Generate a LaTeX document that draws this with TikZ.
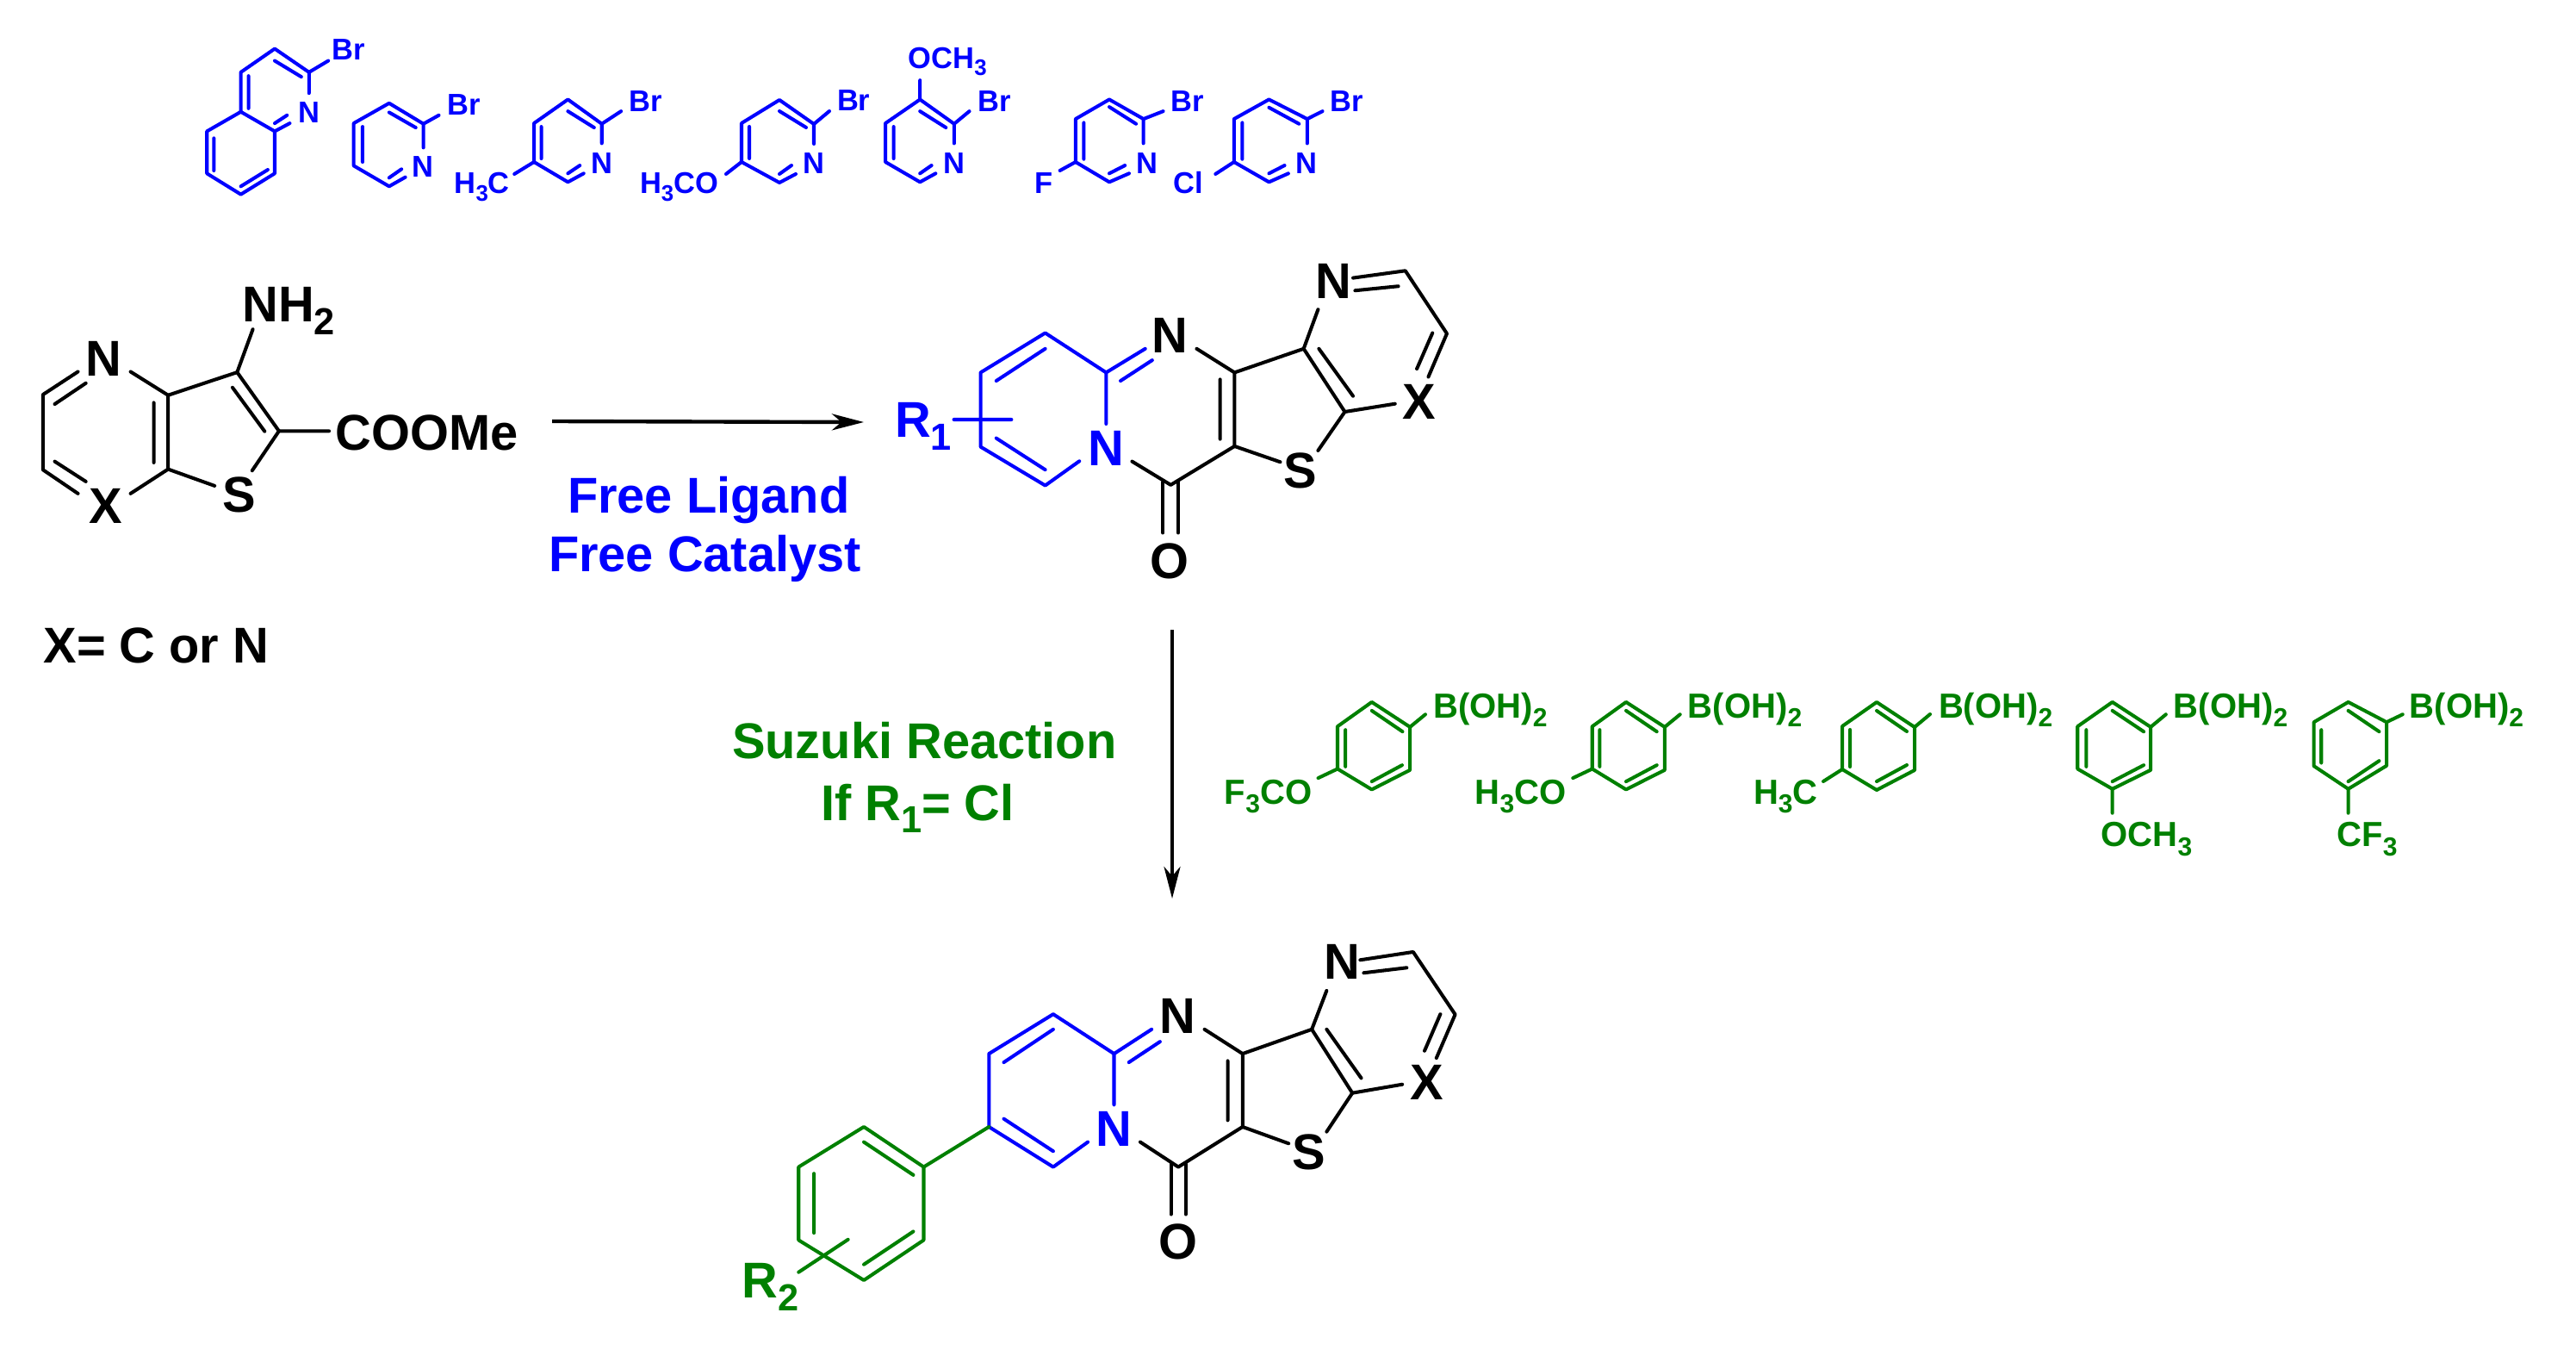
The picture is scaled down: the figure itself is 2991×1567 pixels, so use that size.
\documentclass[tikz,border=0pt]{standalone}
\usepackage{fontspec}
\setmainfont{Liberation Sans}[FakeStretch=0.99]
\usetikzlibrary{arrows.meta}
\definecolor{cblue}{RGB}{0,0,255}
\definecolor{cgreen}{RGB}{0,128,0}
\newcommand{\sbb}[1]{\raisebox{-.25em}{\scalebox{.75}{#1}}}
\tikzset{
  bnd/.style={line width=1.15pt,line cap=round,line join=round},
  lbl/.style={anchor=base west,inner sep=0pt,outer sep=0pt,xshift=-0.03cm,font=\bfseries\fontsize{16.6}{18}\selectfont},
  slbl/.style={anchor=base west,inner sep=0pt,outer sep=0pt,xshift=-0.02cm,font=\bfseries\fontsize{9.9}{11}\selectfont},
  glbl/.style={anchor=base west,inner sep=0pt,outer sep=0pt,xshift=-0.02cm,font=\bfseries\fontsize{11.5}{12}\selectfont},
  rxn/.style={line width=1.25pt,-{Stealth[length=0.37cm,width=0.19cm,inset=0.11cm]}},
  zA/.style={shift={(200,0)},x=0.004464cm,y=-0.003333cm},
  zB/.style={shift={(900,0)},x=0.004783cm,y=-0.003333cm},
  zC/.style={shift={(0,300)},x=0.004146cm,y=-0.003333cm},
  zD/.style={shift={(1000,280)},x=0.004783cm,y=-0.003333cm},
  zE/.style={shift={(840,1080)},x=0.005740cm,y=-0.003333cm},
  zF/.style={shift={(1400,770)},x=0.005102cm,y=-0.003333cm},
  zG/.style={shift={(2200,770)},x=0.005045cm,y=-0.003333cm},
}
\begin{document}
\begin{tikzpicture}[x=0.01cm,y=-0.01cm]
\useasboundingbox (0,0) rectangle (2991,1567);
% ---------- top row, blue
\begin{scope}[zA,color=cblue]
 \draw[bnd] (178,390)--(178,252)--(266,170)--(355,252)--(355,325);
 \draw[bnd] (305,430)--(266,458)--(178,390)--(90,458)--(90,605)--(178,678)--(266,605)--(266,458);
 \draw[bnd] (266,212)--(335,268) (198,265)--(198,378) (266,430)--(298,402) (248,592)--(178,650) (108,482)--(108,595) (355,252)--(405,212);
 \node[slbl] (q1) at (420,210) {Br};
 \node[slbl] (q2) at (332,428) {N};
 \draw[bnd] (605,618)--(563,650)--(471,578)--(471,430)--(563,360)--(652,432)--(652,515);
 \draw[bnd] (563,392)--(632,445) (494,442)--(494,565) (563,620)--(595,590) (652,432)--(692,402);
 \node[slbl] (p1) at (718,400) {Br};
 \node[slbl] (p2) at (628,617) {N};
 \draw[bnd] (1068,605)--(1027,635)--(939,565)--(939,430)--(1027,347)--(1115,432)--(1115,500);
 \draw[bnd] (1027,388)--(1095,445) (958,442)--(958,553) (1027,605)--(1058,577) (1115,432)--(1165,388) (939,565)--(888,607);
 \node[slbl] (m1) at (1190,388) {Br};
 \node[slbl] (m2) at (1092,605) {N};
 \node[slbl] (m3) at (737,675) {H\sbb{3}C};
\end{scope}
\begin{scope}[color=cblue]
 \draw[bnd] (924,202)--(905,212)--(861,188)--(861,143)--(905,116)--(945,144)--(945,167);
 \draw[bnd] (905,129)--(936,148) (870,147)--(870,184) (905,202)--(919,192) (945,144)--(963,129) (861,188)--(843,202);
 \node[slbl] (o1) at (974,129) {Br};
 \node[slbl] (o2) at (934,202) {N};
 \node[slbl] (o3) at (745,225) {H\sbb{3}CO};
\end{scope}
\begin{scope}[zB,color=cblue]
 \draw[bnd] (390,605)--(352,635)--(268,565)--(268,430)--(352,347)--(435,432)--(435,500);
 \draw[bnd] (352,388)--(415,445) (288,442)--(288,553) (352,605)--(380,577) (352,347)--(352,280) (435,432)--(472,388);
 \node[slbl] (a1) at (328,238) {OCH\sbb{3}};
 \node[slbl] (a2) at (497,388) {Br};
 \node[slbl] (a3) at (413,605) {N};
 \draw[bnd] (860,605)--(812,635)--(730,565)--(730,415)--(812,347)--(895,415)--(895,500);
 \draw[bnd] (812,373)--(877,432) (750,428)--(750,555) (812,605)--(850,577) (895,415)--(943,388) (730,565)--(692,595);
 \node[slbl] (f1) at (966,388) {Br};
 \node[slbl] (f2) at (883,605) {N};
 \node[slbl] (f3) at (635,675) {F};
 \draw[bnd] (1247,605)--(1200,635)--(1115,565)--(1115,415)--(1200,347)--(1293,415)--(1293,500);
 \draw[bnd] (1200,375)--(1273,432) (1135,428)--(1135,555) (1200,605)--(1238,577) (1293,415)--(1330,388) (1115,565)--(1070,607);
 \node[slbl] (c1) at (1353,388) {Br};
 \node[slbl] (c2) at (1270,605) {N};
 \node[slbl] (c3) at (973,675) {Cl};
\end{scope}
% ---------- starting material
\begin{scope}[zC]
 \draw[bnd] (218,395)--(120,475)--(120,737)--(218,820);
 \draw[bnd] (240,435)--(153,508) (153,708)--(240,778);
 \draw[bnd] (365,395)--(470,477)--(470,735)--(365,820) (430,503)--(430,712);
 \draw[bnd] (470,477)--(663,397)--(780,602)--(705,740) (470,735)--(600,793) (650,450)--(740,603);
 \draw[bnd] (663,397)--(707,247) (780,602)--(920,602);
 \node[lbl] (s1) at (247,410) {N};
 \node[lbl] (s2) at (257,925) {X};
 \node[lbl] (s3) at (685,222) {NH\sbb{2}};
 \node[lbl] (s4) at (630,884) {S};
 \node[lbl] (s5) at (945,668) {COOMe};
 \node[lbl] (s6) at (129,1412) {X= C or N};
\end{scope}
% ---------- product 1
\begin{scope}[zD]
 \begin{scope}[color=cblue]
 \draw[bnd] (595,458)--(447,320)--(290,458)--(290,717)--(447,852)--(530,767);
 \draw[bnd] (595,458)--(595,637) (595,458)--(690,375) (630,487)--(707,415) (447,375)--(328,487) (328,687)--(447,797) (225,622)--(365,622);
 \node[lbl] (r1) at (88,685) {R\sbb{1}};
 \node[lbl] (bn) at (557,782) {N};
 \end{scope}
 \draw[bnd] (815,375)--(907,458)--(907,715)--(752,850)--(658,768) (872,482)--(872,690);
 \draw[bnd] (907,458)--(1075,375)--(1175,595)--(1297,567) (1112,375)--(1195,540);
 \draw[bnd] (907,715)--(1018,770) (1175,595)--(1110,730) (1075,375)--(1110,238);
 \draw[bnd] (1195,128)--(1322,103)--(1423,322)--(1378,473) (1200,172)--(1305,157) (1388,320)--(1350,445);
 \draw[bnd] (733,840)--(733,1017) (770,840)--(770,1017);
 \node[lbl] (d1) at (1110,200) {N};
 \node[lbl] (d2) at (713,390) {N};
 \node[lbl] (d3) at (1321,620) {X};
 \node[lbl] (d4) at (1033,862) {S};
 \node[lbl] (d5) at (708,1175) {O};
\end{scope}
% ---------- product 2
\begin{scope}[zE]
 \begin{scope}[color=cblue]
 \draw[bnd] (790,430)--(667,292)--(537,430)--(537,685)--(667,825)--(737,738);
 \draw[bnd] (790,430)--(790,608) (790,430)--(866,345) (820,460)--(883,388) (667,345)--(567,460) (567,657)--(667,770);
 \node[lbl] (bn2) at (758,752) {N};
 \end{scope}
 \draw[bnd] (973,345)--(1050,430)--(1050,685)--(920,825)--(843,738) (1020,455)--(1020,662);
 \draw[bnd] (1050,430)--(1190,345)--(1272,567)--(1373,537) (1220,345)--(1290,515);
 \draw[bnd] (1050,685)--(1143,743) (1272,567)--(1220,702) (1190,345)--(1220,210);
 \draw[bnd] (1288,103)--(1395,75)--(1480,293)--(1442,445) (1295,148)--(1382,130) (1450,292)--(1418,420);
 \draw[bnd] (905,815)--(905,990) (935,815)--(935,990);
 \node[lbl] (e1) at (1220,170) {N};
 \node[lbl] (e2) at (888,360) {N};
 \node[lbl] (e3) at (1395,590) {X};
 \node[lbl] (e4) at (1155,833) {S};
 \node[lbl] (e5) at (885,1145) {O};
 \begin{scope}[color=cgreen]
 \draw[bnd] (537,685)--(405,825);
 \draw[bnd] (405,825)--(284,685)--(152,825)--(152,1080)--(284,1220)--(405,1080)--cycle;
 \draw[bnd] (284,738)--(384,853) (183,848)--(183,1055) (284,1165)--(384,1050) (152,1192)--(252,1078);
 \node[lbl] (r2) at (43,1283) {R\sbb{2}};
 \end{scope}
\end{scope}
% ---------- boronic acids, green
\begin{scope}[zF,color=cgreen]
 \draw[bnd] (378,135)--(465,222)--(465,372)--(378,440)--(300,368)--(300,220)--cycle;
 \draw[bnd] (378,165)--(448,238) (318,232)--(318,360) (378,412)--(447,355) (465,222)--(500,178) (300,368)--(256,400);
 \node[glbl] (g1) at (522,190) {B(OH)\sbb{2}};
 \node[glbl] (g2) at (47,490) {F\sbb{3}CO};
 \draw[bnd] (957,135)--(1045,222)--(1045,372)--(957,440)--(880,368)--(880,220)--cycle;
 \draw[bnd] (957,165)--(1027,238) (897,232)--(897,360) (957,412)--(1027,355) (1045,222)--(1080,178) (880,368)--(836,400);
 \node[glbl] (g3) at (1102,190) {B(OH)\sbb{2}};
 \node[glbl] (g4) at (617,490) {H\sbb{3}CO};
\end{scope}
\begin{scope}[color=cgreen]
 \draw[bnd] (2179,815)--(2223,844)--(2223,894)--(2179,917)--(2139,893)--(2139,843)--cycle;
 \draw[bnd] (2179,825)--(2214,849) (2148,847)--(2148,890) (2179,907)--(2214,888) (2223,844)--(2241,829) (2139,893)--(2117,907);
 \node[glbl] (g5) at (2253,833) {B(OH)\sbb{2}};
 \node[glbl] (g6) at (2038,933) {H\sbb{3}C};
\end{scope}
\begin{scope}[zG,color=cgreen]
 \draw[bnd] (500,135)--(588,222)--(588,372)--(500,438)--(420,368)--(420,220)--cycle;
 \draw[bnd] (500,165)--(572,238) (440,232)--(440,360) (500,412)--(572,355) (588,222)--(623,178) (500,438)--(500,522);
 \node[glbl] (g7) at (645,190) {B(OH)\sbb{2}};
 \node[glbl] (g8) at (478,640) {OCH\sbb{3}};
 \draw[bnd] (1042,135)--(1130,205)--(1130,357)--(1042,438)--(963,358)--(963,205)--cycle;
 \draw[bnd] (1042,165)--(1113,238) (980,232)--(980,347) (1042,412)--(1113,340) (1130,205)--(1167,178) (1042,438)--(1042,522);
 \node[glbl] (g9) at (1187,190) {B(OH)\sbb{2}};
 \node[glbl] (g10) at (1020,640) {CF\sbb{3}};
\end{scope}
% ---------- arrows and conditions
\coordinate (ha) at (641,489);
\coordinate (hb) at (1003,490);
\draw[rxn] (ha)--(hb);
\coordinate (va) at (1361,731);
\coordinate (vb) at (1361,1043);
\draw[rxn] (va)--(vb);
\node[lbl,color=cblue] (t1) at (662,595) {Free Ligand};
\node[lbl,color=cblue] (t2) at (640,663) {Free Catalyst};
\node[lbl,color=cgreen] (t3) at (853,880) {Suzuki Reaction};
\node[lbl,color=cgreen] (t4) at (956,952) {If R\sbb{1}= Cl};
\end{tikzpicture}
\end{document}
